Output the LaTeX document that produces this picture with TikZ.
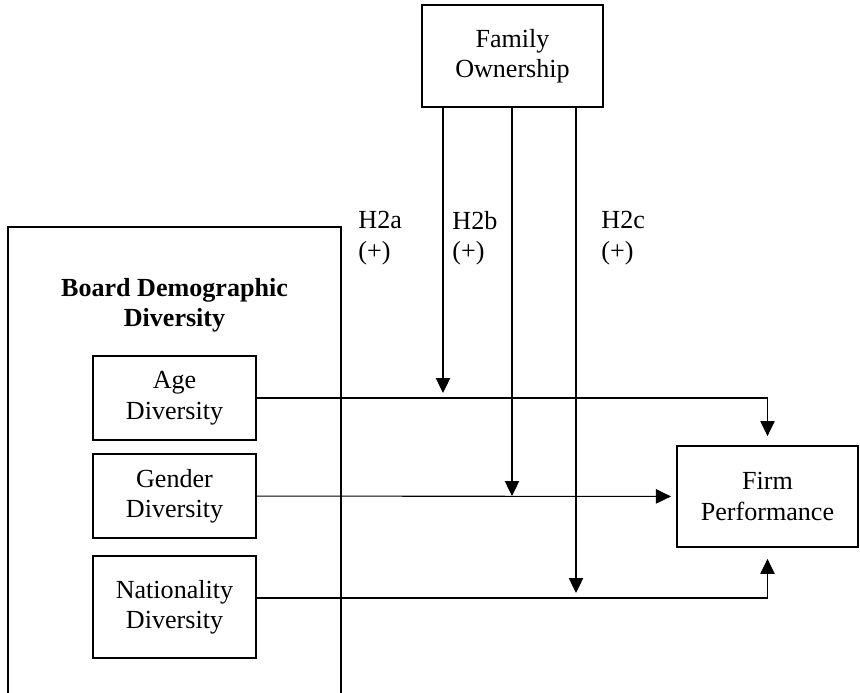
\documentclass[tikz,border=0pt]{standalone}
\usepackage{fontspec}
\setmainfont{Liberation Serif}
\usetikzlibrary{arrows.meta}
\tikzset{
	caja/.style={draw, line width=0.9pt, align=center, inner sep=0pt},
	flecha/.style={line width=0.5pt, -{Triangle[length=6.9pt,width=6.6pt]}},
	etiqueta/.style={anchor=north west, align=left, inner sep=0pt},
}
\begin{document}
\begin{tikzpicture}[x=0.46pt, y=-0.46pt, font=\fontsize{12}{14}\selectfont]
	\clip (0,0) rectangle (860,692);
	% Moderador
		\node[caja, minimum width=83.3pt, minimum height=46.9pt] (fam) at (512.5,56) {Family\\Ownership};
	% Caja grande (abierta abajo)
		\node[caja, minimum width=153.2pt, minimum height=226.8pt] (board) at (174.5,473.5) {};
		\node[align=center, inner sep=0pt, font=\fontsize{12}{13.8}\selectfont\bfseries] (titulo) at (174.5,305) {Board Demographic\\Diversity};
	% Variables independientes
		\node[caja, minimum width=75pt, minimum height=38.6pt] (age) at (174.5,398) {Age\\Diversity};
		\node[caja, minimum width=75pt, minimum height=38.6pt] (gender) at (174.5,496) {Gender\\Diversity};
		\node[caja, minimum width=75pt, minimum height=46.9pt] (nat) at (174.5,607) {Nationality\\Diversity};
	% Variable dependiente
		\node[caja, minimum width=83.3pt, minimum height=46.5pt] (firm) at (767.5,496.5) {Firm\\Performance};
	% Puntos de moderacion
		\coordinate (ha) at (443,398);
		\coordinate (hb) at (512,496);
		\coordinate (hc) at (576,598);
	% Efectos directos
		\draw[flecha, shorten >=4.1pt] (age) -| (firm);
		\draw[flecha, shorten >=2.3pt] (gender) -- (firm);
		\draw[flecha, shorten >=5pt] (nat.east |- hc) -| (firm);
	% Efectos moderadores
		\draw[flecha, shorten >=2.3pt] (fam.south -| ha) -- (ha);
		\draw[flecha] (fam.south -| hb) -- (hb);
		\draw[flecha, shorten >=2.3pt] (fam.south -| hc) -- (hc);
	% Hipotesis
		\node[etiqueta] (la) at (358,211) {H2a\\(+)};
		\node[etiqueta] (lb) at (452,211) {H2b\\(+)};
		\node[etiqueta] (lc) at (601,211) {H2c\\(+)};
\end{tikzpicture}
\end{document}
